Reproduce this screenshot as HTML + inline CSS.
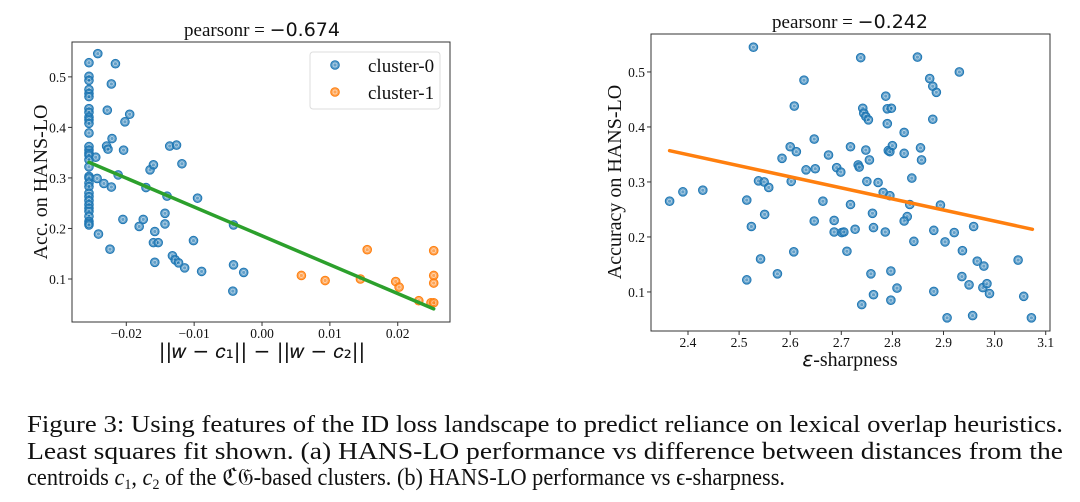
<!DOCTYPE html>
<html><head><meta charset="utf-8"><style>
html,body{margin:0;padding:0;background:#fff;}
svg{display:block;}
.serif{font-family:"Liberation Serif",serif;}
.sans{font-family:"DejaVu Sans","Liberation Sans",sans-serif;}
</style></head><body>
<svg id="fig" width="1080" height="502" viewBox="0 0 1080 502" xmlns="http://www.w3.org/2000/svg">
<g id="left"></g>
<g id="right"></g>
<g class="serif" font-size="24" fill="#111">
<text x="27" y="432" textLength="1036" lengthAdjust="spacingAndGlyphs">Figure 3: Using features of the ID loss landscape to predict reliance on lexical overlap heuristics.</text>
<text x="27" y="459" textLength="1036" lengthAdjust="spacingAndGlyphs">Least squares fit shown.  (a) HANS-LO performance vs difference between distances from the</text>
<text x="27" y="485" textLength="758" lengthAdjust="spacingAndGlyphs">centroids <tspan font-style="italic">c</tspan><tspan font-size="15" dy="4">1</tspan><tspan dy="-4">, </tspan><tspan font-style="italic">c</tspan><tspan font-size="15" dy="4">2</tspan><tspan dy="-4"> of the ℭ𝔊-based clusters. (b) HANS-LO performance vs ϵ-sharpness.</tspan></text>
</g>
</svg>
<script>
// ---- Left chart data ----
const leftColX = -0.0255;
const leftColY = [0.528,0.501,0.493,0.475,0.467,0.461,0.437,0.43,0.420,0.415,0.408,0.389,0.362,0.355,0.349,0.345,0.336,0.322,0.303,0.30,0.29,0.283,0.27,0.263,0.255,0.247,0.24,0.234,0.224,0.214,0.21,0.207];
const c0X = [-0.0242,-0.0216,-0.0222,-0.0228,-0.0195,-0.0202,-0.0221,-0.0229,-0.0227,-0.0204,-0.0245,-0.0243,-0.0233,-0.0222,-0.0212,-0.0241,-0.0224,-0.0205,-0.0181,-0.0175,-0.0171,-0.0165,-0.0160,-0.0158,-0.0160,-0.0153,-0.0158,-0.0143,-0.0143,-0.0140,-0.0136,-0.0126,-0.0118,-0.0132,-0.0128,-0.0123,-0.0114,-0.0101,-0.0095,-0.0089,-0.0042,-0.0042,-0.0043,-0.0027];
const c0Y = [0.546,0.526,0.486,0.434,0.426,0.411,0.378,0.363,0.357,0.355,0.341,0.299,0.289,0.282,0.306,0.189,0.159,0.218,0.204,0.218,0.281,0.316,0.326,0.194,0.172,0.172,0.133,0.209,0.230,0.264,0.363,0.365,0.328,0.146,0.138,0.132,0.122,0.176,0.260,0.115,0.207,0.128,0.076,0.113];
const c1X = [0.0058,0.0093,0.0145,0.0155,0.0197,0.0202,0.0231,0.0249,0.0253,0.0253,0.0253,0.0253];
const c1Y = [0.107,0.097,0.100,0.158,0.095,0.084,0.057,0.053,0.053,0.156,0.107,0.092];
const leftFit = [-5.71, 0.1854]; // slope, intercept
const leftFitRange = [-0.0255, 0.0253];
const leftXTicks = [-0.02,-0.01,0.00,0.01,0.02];
const leftXTickLabels = ["\u22120.02","\u22120.01","0.00","0.01","0.02"];
const leftYTicks = [0.1,0.2,0.3,0.4,0.5];
const leftYTickLabels = ["0.1","0.2","0.3","0.4","0.5"];

// ---- Right chart data ----
const rX = [2.528,2.738,2.849,2.931,2.627,2.873,2.879,2.886,2.787,2.608,2.742,2.744,2.748,2.790,2.798,2.879,2.753,2.790,2.823,2.647,2.600,2.612,2.718,2.748,2.792,2.795,2.800,2.855,2.857,2.823,2.675,2.584,2.755,2.691,2.699,2.631,2.649,2.733,2.735,2.838,2.538,2.549,2.558,2.602,2.750,2.772,2.782,2.795,2.515,2.664,2.718,2.834,2.894,2.364,2.390,2.429,2.550,2.524,2.647,2.686,2.761,2.763,2.727,2.686,2.701,2.705,2.786,2.829,2.823,2.881,2.842,2.903,2.921,2.959,2.607,2.711,2.937,2.542,2.515,2.575,2.758,2.797,2.809,2.763,2.797,2.740,2.881,2.936,2.950,2.966,2.979,2.977,2.985,2.990,3.046,3.057,2.907,2.957,3.072];
const rY = [0.545,0.526,0.527,0.500,0.485,0.488,0.474,0.463,0.456,0.438,0.434,0.425,0.419,0.433,0.434,0.414,0.413,0.406,0.390,0.378,0.364,0.355,0.364,0.358,0.357,0.355,0.366,0.362,0.340,0.352,0.349,0.343,0.340,0.326,0.318,0.322,0.324,0.331,0.327,0.307,0.302,0.300,0.290,0.301,0.301,0.299,0.281,0.275,0.267,0.265,0.259,0.259,0.258,0.265,0.282,0.285,0.241,0.219,0.229,0.230,0.243,0.217,0.214,0.209,0.208,0.209,0.209,0.237,0.229,0.212,0.192,0.191,0.208,0.219,0.173,0.174,0.175,0.160,0.122,0.133,0.133,0.138,0.107,0.095,0.085,0.077,0.101,0.128,0.113,0.156,0.147,0.108,0.115,0.097,0.158,0.092,0.053,0.057,0.053];
const rightFit = [-0.2014, 0.833];
const rightFitRange = [2.364, 3.074];
const rightXTicks = [2.4,2.5,2.6,2.7,2.8,2.9,3.0,3.1];
const rightXTickLabels = ["2.4","2.5","2.6","2.7","2.8","2.9","3.0","3.1"];
const rightYTicks = [0.1,0.2,0.3,0.4,0.5];
const rightYTickLabels = ["0.1","0.2","0.3","0.4","0.5"];

const NS = "http://www.w3.org/2000/svg";
function mk(parent, tag, attrs, text){
  const e = document.createElementNS(NS, tag);
  for (const k in attrs) e.setAttribute(k, attrs[k]);
  if (text !== undefined) e.textContent = text;
  parent.appendChild(e); return e;
}
function lin(d0,d1,r0,r1){ return v => r0 + (v-d0)/(d1-d0)*(r1-r0); }

function marker(g, x, y, color){
  const m = mk(g,'g',{});
  
  
  mk(m,'circle',{cx:x,cy:y,r:4.3,fill:color,'fill-opacity':0.7,stroke:color,'stroke-width':1});
  mk(m,'circle',{cx:x,cy:y,r:2,fill:'none',stroke:'#fff','stroke-opacity':0.6,'stroke-width':0.8});
  return m;
}

function axes(g, box, sx, sy, xt, xtl, yt, ytl, xoff){
  const fr = mk(g,'rect',{x:box[0],y:box[1],width:box[2]-box[0],height:box[3]-box[1],fill:'none',stroke:'#333','stroke-width':1});
  
  
  xt.forEach((v,i)=>{
    const x = sx(v);
    mk(g,'line',{x1:x,x2:x,y1:box[3],y2:box[3]+4,stroke:'#333'});
    const t = mk(g,'text',{x:x,y:box[3]+xoff,'text-anchor':'middle','font-size':13.5,class:'serif',fill:'#111'}, xtl[i]);
    
    
  });
  yt.forEach((v,i)=>{
    const y = sy(v);
    mk(g,'line',{x1:box[0]-4,x2:box[0],y1:y,y2:y,stroke:'#333'});
    const t = mk(g,'text',{x:box[0]-6,y:y+5,'text-anchor':'end','font-size':13.5,class:'serif',fill:'#111'}, ytl[i]);
    
    
  });
}

// Left chart
(function(){
  const g = document.getElementById('left');
  const box = [72,42,450,322];
  const sx = lin(-0.0280,0.0277,72,450);
  const sy = lin(0.0149,0.569,322,42);
  axes(g, box, sx, sy, leftXTicks, leftXTickLabels, leftYTicks, leftYTickLabels, 16);
  const blue = '#1f77b4', orange = '#ff7f0e';
  leftColY.forEach(v=>marker(g, sx(leftColX), sy(v), blue));
  c0X.forEach((v,i)=>marker(g, sx(v), sy(c0Y[i]), blue));
  c1X.forEach((v,i)=>marker(g, sx(v), sy(c1Y[i]), orange));
  const fl = mk(g,'line',{x1:sx(leftFitRange[0]),y1:sy(leftFit[0]*leftFitRange[0]+leftFit[1]),x2:sx(leftFitRange[1]),y2:sy(leftFit[0]*leftFitRange[1]+leftFit[1]),stroke:'#2ca02c','stroke-width':3.5,'stroke-linecap':'round'});
  
  
  // legend
  const lg = mk(g,'g',{});
  
  
  mk(lg,'rect',{x:310,y:52,width:130,height:57,rx:3,fill:'#fff',stroke:'#ddd'});
  const e0 = mk(lg,'g',{});
  
  
  marker(e0,335,65,blue);
  mk(e0,'text',{x:368,y:72,'font-size':19,class:'serif',fill:'#111'},'cluster-0');
  const e1 = mk(lg,'g',{});
  
  
  marker(e1,335,92,orange);
  mk(e1,'text',{x:368,y:99,'font-size':19,class:'serif',fill:'#111'},'cluster-1');
  // titles
  const tt = mk(g,'text',{x:262,y:36,'text-anchor':'middle','font-size':19,fill:'#111'});
  
  
  mk(tt,'tspan',{class:'serif'},'pearsonr = ');
  mk(tt,'tspan',{class:'sans'},'\u22120.674');
  const yl = mk(g,'text',{x:0,y:0,transform:'translate(47,182) rotate(-90)','text-anchor':'middle','font-size':20,class:'serif',fill:'#111'},'Acc. on HANS-LO');
  
  
  const xl = mk(g,'text',{x:262,y:358,'text-anchor':'middle','font-size':20,class:'sans',fill:'#111'},'||\uD835\uDC64 \u2212 \uD835\uDC50\u2081|| \u2212 ||\uD835\uDC64 \u2212 \uD835\uDC50\u2082||');
  
  
})();

// Right chart
(function(){
  const g = document.getElementById('right');
  const box = [651,34,1050,331];
  const sx = lin(2.3276,3.1084,651,1050);
  const sy = lin(0.029,0.569,331,34);
  axes(g, box, sx, sy, rightXTicks, rightXTickLabels, rightYTicks, rightYTickLabels, 16);
  const blue = '#1f77b4';
  rX.forEach((v,i)=>marker(g, sx(v), sy(rY[i]), blue));
  const fl = mk(g,'line',{x1:sx(rightFitRange[0]),y1:sy(rightFit[0]*rightFitRange[0]+rightFit[1]),x2:sx(rightFitRange[1]),y2:sy(rightFit[0]*rightFitRange[1]+rightFit[1]),stroke:'#ff7f0e','stroke-width':3.5,'stroke-linecap':'round'});
  
  
  const tt = mk(g,'text',{x:850,y:28,'text-anchor':'middle','font-size':19,fill:'#111'});
  
  
  mk(tt,'tspan',{class:'serif'},'pearsonr = ');
  mk(tt,'tspan',{class:'sans'},'\u22120.242');
  const yl = mk(g,'text',{x:0,y:0,transform:'translate(621,182) rotate(-90)','text-anchor':'middle','font-size':20,class:'serif',fill:'#111'},'Accuracy on HANS-LO');
  
  
  const xl = mk(g,'text',{x:850,y:366,'text-anchor':'middle','font-size':20,class:'serif',fill:'#111'});
  
  
  mk(xl,'tspan',{class:'sans','font-style':'italic'},'\u03b5');
  mk(xl,'tspan',{},'-sharpness');
})();
</script>
</body></html>
